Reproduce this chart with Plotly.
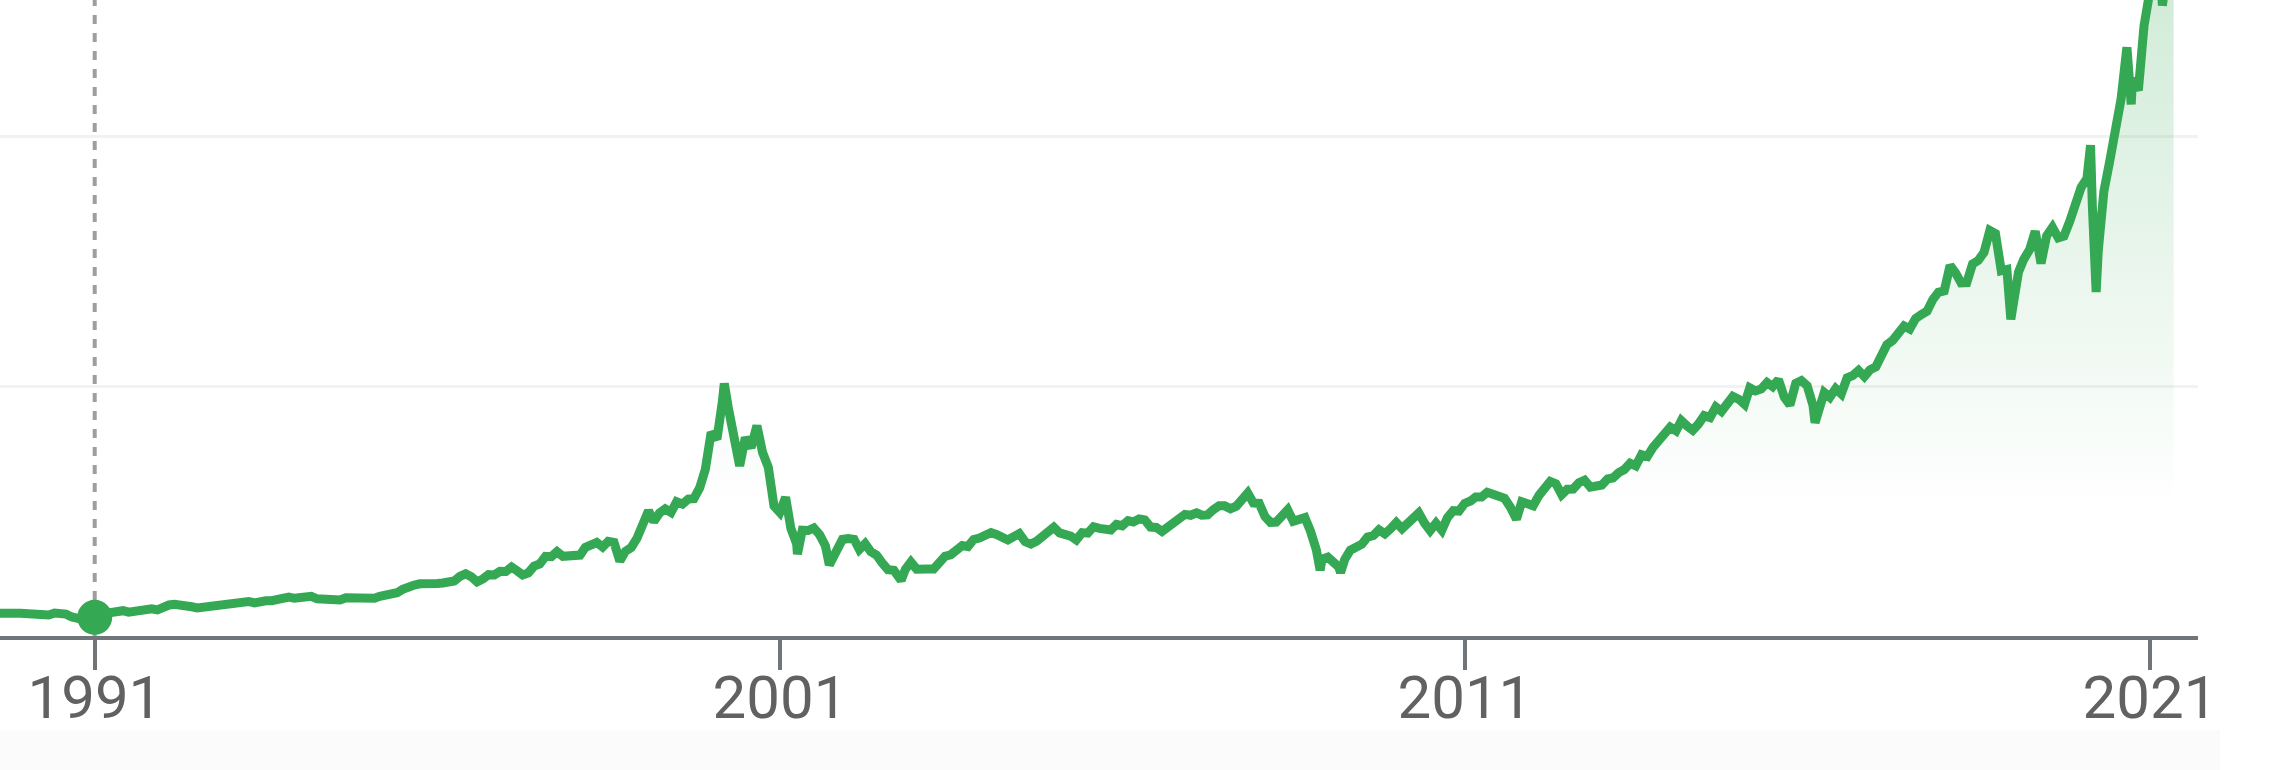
import pandas as pd
import plotly.graph_objects as go

# monthly closes, Jul 1989 .. Apr 2021
month_start = "1989-07-31"
monthly = [
    454, 469, 473, 456, 456, 455,                                  # 1989 Jul-Dec
    416, 425, 436, 421, 459, 462, 438, 381, 345, 329, 359, 374,    # 1990
    414, 453, 482, 485, 506, 476, 502, 526, 527, 543, 523, 586,    # 1991
    620, 633, 603, 578, 585, 563, 581, 563, 583, 605, 652, 677,    # 1992
    696, 671, 690, 661, 700, 704, 705, 742, 763, 779, 754, 777,    # 1993
    800, 793, 743, 733, 735, 706, 722, 766, 764, 777, 750, 752,    # 1994
    756, 794, 817, 843, 865, 933, 1001, 1020, 1044, 1036, 1059, 1052,   # 1995
    1060, 1100, 1101, 1191, 1243, 1185, 1081, 1141, 1227, 1222, 1293, 1291,  # 1996
    1380, 1309, 1222, 1261, 1400, 1442, 1594, 1587, 1686, 1594, 1601, 1570,  # 1997
    1619, 1771, 1835, 1869, 1779, 1895, 1873, 1499, 1694, 1771, 1950, 2193,  # 1998
    2506, 2288, 2461, 2543, 2471, 2686, 2638, 2739, 2746, 2966, 3336, 4069,  # 1999
    3940, 4697, 4573, 3861, 3401, 3966, 3767, 4206, 3673, 3370, 2598, 2471,  # 2000
    2773, 2152, 1840, 2116, 2110, 2161, 2027, 1805, 1499, 1690, 1931, 1950,  # 2001
    1934, 1731, 1845, 1688, 1616, 1463, 1328, 1315, 1172, 1330, 1479, 1336,  # 2002
    1321, 1338, 1341, 1464, 1596, 1623, 1735, 1810, 1787, 1932, 1960, 2003,  # 2003
    2066, 2030, 1994, 1920, 1987, 2048, 1887, 1838, 1897, 1975, 2097, 2175,  # 2004
    2062, 2052, 1999, 1922, 2068, 2057, 2185, 2152, 2152, 2120, 2233, 2205,  # 2005
    2306, 2281, 2340, 2323, 2179, 2172, 2091, 2184, 2258, 2367, 2432, 2415,  # 2006
    2464, 2416, 2422, 2525, 2605, 2603, 2546, 2596, 2701, 2859, 2661, 2652,  # 2007
    2389, 2271, 2279, 2413, 2523, 2293, 2326, 2368, 2092, 1721, 1536, 1577,  # 2008
    1476, 1378, 1529, 1717, 1774, 1835, 1979, 2009, 2122, 2045, 2145, 2269,  # 2009
    2147, 2238, 2398, 2461, 2257, 2109, 2255, 2114, 2369, 2507, 2498, 2653,  # 2010
    2700, 2782, 2781, 2874, 2835, 2774, 2756, 2579, 2415, 2684, 2620, 2605,  # 2011
    2814, 2967, 3092, 3046, 2827, 2935, 2940, 3067, 3116, 2977, 3010, 3020,  # 2012
    3142, 3160, 3268, 3329, 3456, 3403, 3626, 3590, 3771, 3920, 4060, 4177,  # 2013
    4104, 4308, 4199, 4115, 4243, 4408, 4370, 4580, 4493, 4631, 4792, 4736,  # 2014
    4635, 4964, 4901, 4941, 5070, 4987, 5128, 4777, 4620, 5054, 5109, 5007,  # 2015
    4614, 4558, 4870, 4775, 4948, 4843, 5162, 5213, 5312, 5189, 5324, 5383,  # 2016
    5615, 5825, 5912, 6048, 6199, 6140, 6348, 6429, 6496, 6728, 6874, 6903,  # 2017
    7411, 7273, 7063, 7066, 7442, 7510, 7672, 8110, 8046, 7306, 7331, 6635,  # 2018
    7282, 7533, 7729, 8095, 7453, 8006, 8175, 7963, 7999, 8292, 8665, 8973,  # 2019
    9151, 8567, 7700, 8890, 9490, 10059, 10745, 11775, 11168, 10912, 12199, 12888,  # 2020
    13071, 13192, 13247, 13962,                                    # 2021 Jan-Apr
]

# weekly highs and lows visible as spikes
extreme_dates = ["1990-10-16", "2000-03-10", "2001-04-04", "2001-09-21", "2002-10-09",
                 "2008-11-20", "2009-03-09", "2011-10-03", "2016-02-11", "2018-12-21",
                 "2020-02-19", "2020-03-20", "2020-09-23", "2021-02-12", "2021-03-08",
                 "2021-05-07"]
extreme_values = [325, 5048, 1638, 1423, 1114,
                  1316, 1268, 2335, 4266, 6333,
                  9817, 6880, 10633, 14095, 12609,
                  13752]

hover_date = "1990-12-31"
hover_value = 374

tick_years = ["1991", "2001", "2011", "2021"]
grid_values = [5000, 10000]

GREEN = "#34a853"
AXIS = "#70757a"
X_RANGE = ["1989-08-13", "2021-09-14"]

s = pd.Series(monthly, index=pd.date_range(month_start, periods=len(monthly), freq="ME"))
s = pd.concat([s, pd.Series(extreme_values, index=pd.to_datetime(extreme_dates))]).sort_index()
tick_dates = [y + "-01-01" for y in tick_years]

fig = go.Figure()
fig.add_trace(go.Scatter(
    x=s.index, y=s.values, mode="lines",
    line=dict(color=GREEN, width=9),
    fill="tozeroy",
    fillgradient=dict(type="vertical", start=2500, stop=12720,
                      colorscale=[[0, "rgba(52,168,83,0)"], [1, "rgba(52,168,83,0.22)"]]),
    hoverinfo="skip", showlegend=False,
))
fig.add_trace(go.Scatter(
    x=[hover_date], y=[hover_value], mode="markers",
    marker=dict(color=GREEN, size=35), showlegend=False,
))
# invisible trace so the label axis gets drawn
fig.add_trace(go.Scatter(
    x=[hover_date], y=[hover_value], xaxis="x2", mode="markers",
    marker=dict(opacity=0), hoverinfo="skip", showlegend=False,
))

# crosshair
fig.add_shape(type="line", xref="x", yref="paper", x0=hover_date, x1=hover_date, y0=0, y1=1,
              line=dict(color="#9e9e9e", width=4, dash="9px,9px"), layer="below")
# faint band under the labels
fig.add_shape(type="rect", xref="paper", yref="paper", x0=0, x1=1.01, y0=-0.211, y1=-0.148,
              fillcolor="#fbfbfb", line_width=0, layer="below")

fig.update_layout(
    width=2282, height=770,
    margin=dict(l=0, r=84, t=0, b=134),
    plot_bgcolor="white", paper_bgcolor="white",
    font=dict(family="Roboto", size=60, color="#616161"),
    # axis line + tick marks
    xaxis=dict(
        type="date", range=X_RANGE, tickvals=tick_dates, showticklabels=False,
        showgrid=False, showline=True, linecolor=AXIS, linewidth=4,
        ticks="outside", ticklen=30, tickwidth=4, tickcolor=AXIS,
        zeroline=False, automargin=False,
    ),
    # year labels only
    xaxis2=dict(
        type="date", range=X_RANGE, overlaying="x", side="bottom", anchor="y",
        tickvals=tick_dates, ticktext=tick_years, ticks="",
        showgrid=False, showline=False, zeroline=False,
        ticklabelstandoff=21, automargin=False,
    ),
    yaxis=dict(
        range=[0, 12720], tickvals=grid_values, showticklabels=False,
        showgrid=True, gridcolor="#f2f2f2", gridwidth=3,
        zeroline=False, showline=False, automargin=False,
    ),
)

# drop the default page margin so the figure sits at the window corner
fig.write_html("out.html", config={"displayModeBar": False},
               post_script="document.body.style.margin='0';")
